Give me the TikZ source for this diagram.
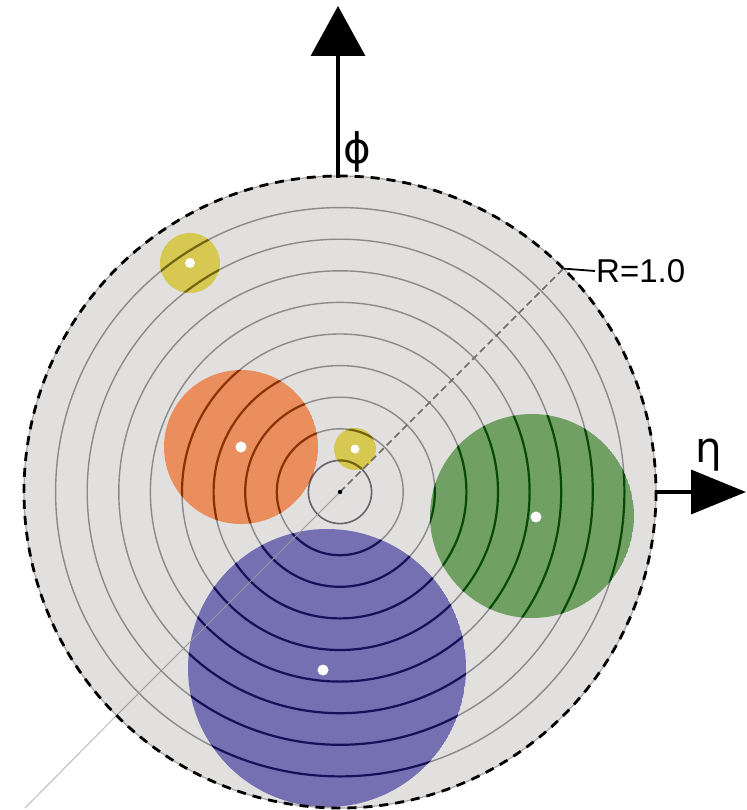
\documentclass[tikz,border=0pt]{standalone}
\usepackage{fontspec}
\setmainfont{Liberation Sans}
\newfontfamily\greekfont{DejaVu Sans}
\usetikzlibrary{arrows.meta,calc}
\definecolor{diskcol}{RGB}{225,224,222}
\definecolor{ringcol}{RGB}{138,138,140}
\definecolor{innercol}{RGB}{100,100,108}
\definecolor{orangefill}{RGB}{233,142,92}
\definecolor{orangeline}{RGB}{135,50,5}
\definecolor{greenfill}{RGB}{112,160,100}
\definecolor{greenline}{RGB}{8,72,8}
\definecolor{bluefill}{RGB}{116,112,178}
\definecolor{blueline}{RGB}{22,16,88}
\definecolor{yellowfill}{RGB}{214,200,80}
\definecolor{yellowline}{RGB}{115,100,20}
\definecolor{diagdash}{RGB}{115,105,95}
\tikzset{
  ringline/.style={draw=ringcol, line width=1.4pt},
  innerring/.style={draw=innercol, line width=1.6pt},
  axisline/.style={line width=3.5pt, -{Triangle[length=50pt,width=54pt]}},
  axislineh/.style={line width=3.5pt, -{Triangle[length=55pt,width=44pt]}},
  dotmark/.style={fill=white},
}
\newcommand{\myblob}[4]{%
  \begin{scope}
    \clip #1 circle (#2);
    \fill[#3] #1 circle (#2);
    \foreach \k in {1,...,9} \draw[#4, line width=2.2pt] (O) circle (\k*31.6);
  \end{scope}}
\begin{document}
\begin{tikzpicture}[x=1pt,y=-1pt]
\useasboundingbox (0,0) rectangle (746,810);
\coordinate (O) at (340,492);
% disk and rings
\fill[diskcol] (O) circle (316);
\foreach \k in {2,...,9} \draw[ringline] (O) circle (\k*31.6);
\draw[innerring] (O) circle (31.6);
% blobs
\coordinate (Y1) at (190,263);
\coordinate (Or) at (241,447);
\coordinate (Y2) at (355,449);
\coordinate (Gr) at (532,516);
\coordinate (Bl) at (327,668);
\myblob{(Y1)}{30}{yellowfill}{yellowline}
\myblob{(Or)}{77}{orangefill}{orangeline}
\myblob{(Y2)}{21}{yellowfill}{yellowline}
\myblob{(Gr)}{102}{greenfill}{greenline}
\myblob{(Bl)}{139}{bluefill}{blueline}
% diagonal
\coordinate (LL) at (25,808);
\coordinate (LE) at (116.6,715.4);
\coordinate (UR) at (563.4,268.6);
\draw[gray!45, line width=1.2pt] (LL) -- (LE);
\draw[gray!80, line width=1pt] (LE) -- (O);
\draw[diagdash, line width=1.5pt, dash pattern=on 7pt off 4pt] (O) -- (UR);
% outer dashed circle
\draw[gray!70, line width=1.2pt] (O) circle (316);
\draw[black, line width=2.8pt, dash pattern=on 9pt off 7pt] (O) circle (316);
% dots
\coordinate (GrDot) at (536,517);
\coordinate (BlDot) at (323,670);
\fill[dotmark] (Y1) circle (5);
\fill[dotmark] (Or) circle (5.5);
\fill[dotmark] (Y2) circle (4.5);
\fill[dotmark] (GrDot) circle (5.5);
\fill[dotmark] (BlDot) circle (5.5);
\fill[black] (O) circle (2.2);
% R label
\coordinate (Rt) at (595,271);
\draw[black, line width=1.8pt] (UR) -- (Rt);
\node[anchor=west, inner sep=1pt, font=\fontsize{33}{36}\selectfont] (Rl) at (Rt) {R=1.0};
% axes
\coordinate (vtop) at (338,178);
\coordinate (vtip) at (338,6);
\draw[axisline] (vtop) -- (vtip);
\coordinate (hstart) at (655,492);
\coordinate (htip) at (746,492);
\draw[axislineh] (hstart) -- (htip);
\node[font=\greekfont\fontsize{42}{46}\selectfont, inner sep=0pt] (phi) at (357,152) {ϕ};
\node[font=\greekfont\fontsize{42}{46}\selectfont, inner sep=0pt] (eta) at (709,455) {η};
\end{tikzpicture}
\end{document}
